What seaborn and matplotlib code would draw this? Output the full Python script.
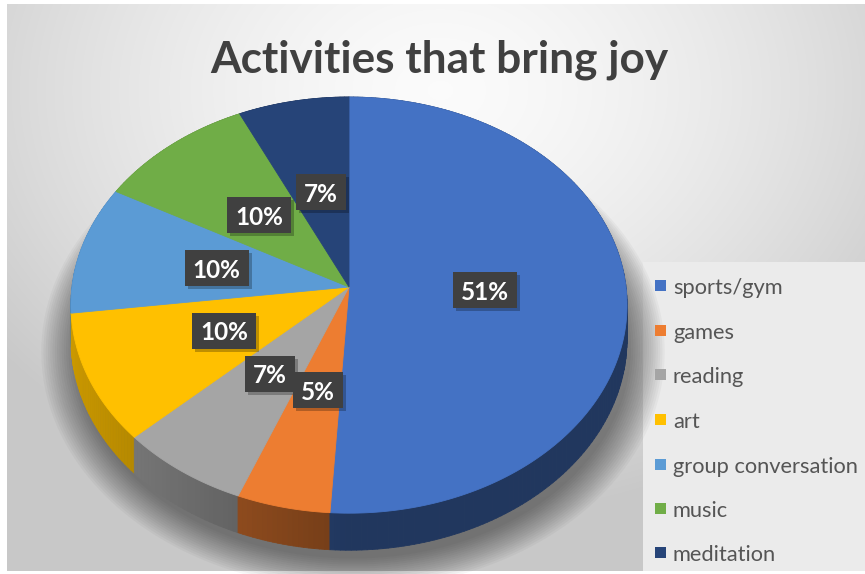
import numpy as np
import matplotlib
matplotlib.use("Agg")
import matplotlib.pyplot as plt
import seaborn as sns
from matplotlib.patches import Polygon, Rectangle
from matplotlib.collections import PolyCollection

# ---------------- data ----------------
categories = ["sports/gym", "games", "reading", "art",
              "group conversation", "music", "meditation"]
values = [51, 5, 7, 10, 10, 10, 7]
pct_labels = ["51%", "5%", "7%", "10%", "10%", "10%", "7%"]
title = "Activities that bring joy"

colors = sns.color_palette(["#4472C4", "#ED7D31", "#A5A5A5", "#FFC000",
                            "#5B9BD5", "#70AD47", "#264478"])

sns.set_theme(style="white")
plt.rcParams['font.family'] = ['Lato', 'DejaVu Sans']

W, H = 865, 574
fig = plt.figure(figsize=(8.65, 5.74), dpi=100)
fig.patch.set_facecolor("white")
ax = fig.add_axes([0, 0, 1, 1])
ax.set_xlim(0, W)
ax.set_ylim(H, 0)
ax.axis('off')
renderer = fig.canvas.get_renderer()

# ---------------- background ----------------
x0b, y0b, x1b, y1b = 7, 4, W, 571
yy, xx = np.mgrid[y0b:y1b, x0b:x1b]
d = np.sqrt(((xx - 440) / 560.0) ** 2 + ((yy - 90) / 430.0) ** 2)
g = 0.985 - 0.2 * np.clip(d, 0, 1) ** 1.5
ax.imshow(np.dstack([g, g, g]), extent=(x0b, x1b, y1b, y0b),
          interpolation='bilinear', zorder=0, aspect='auto')

# legend panel
ax.add_patch(Rectangle((643, 262), W - 643, 571 - 262, fc="#EBEBEB",
                       ec="none", zorder=1))

# ---------------- projection ----------------
cx, cy = 349.0, 287.0
A, B, K = 277.0, 206.5, 0.087
DEPTH = 33.8


def proj(r, th, down=0.0):
    u = r * np.sin(th)
    v = -r * np.cos(th)
    den = 1 - K * v
    return cx + A * u / den, cy + B * v / den + down / den


total = float(sum(values))
cum = np.concatenate([[0], np.cumsum(values)]) / total * 2 * np.pi

# soft shadow
th_all = np.linspace(0, 2 * np.pi, 361)
for i in range(16):
    s = 1.0 + 0.008 * i
    px, py = proj(s, th_all, DEPTH + 4)
    ax.add_patch(Polygon(np.column_stack([px + 4, py + 4]), closed=True,
                         fc="black", ec="none", alpha=0.03, zorder=2))

# walls
quads, qcols, qdepth = [], [], []
for i, c in enumerate(colors):
    n = max(int(np.degrees(cum[i + 1] - cum[i])), 2)
    ths = np.linspace(cum[i], cum[i + 1], n + 1)
    for a0, a1 in zip(ths[:-1], ths[1:]):
        tx0, ty0 = proj(1, a0)
        tx1, ty1 = proj(1, a1)
        bx0, by0 = proj(1, a0, DEPTH)
        bx1, by1 = proj(1, a1, DEPTH)
        quads.append([(tx0, ty0), (tx1, ty1), (bx1, by1), (bx0, by0)])
        am = 0.5 * (a0 + a1)
        f = 0.48 + 0.32 * max(0.0, -np.sin(am))
        qcols.append(tuple(np.array(c) * f))
        qdepth.append(-np.cos(am))
order = np.argsort(qdepth)
pc = PolyCollection([quads[j] for j in order],
                    facecolors=[qcols[j] for j in order],
                    edgecolors=[qcols[j] for j in order], linewidths=0.6,
                    zorder=3)
ax.add_collection(pc)

# top faces
for i, c in enumerate(colors):
    ths = np.linspace(cum[i], cum[i + 1], 200)
    px, py = proj(1, ths)
    pts = np.vstack([[cx, cy], np.column_stack([px, py])])
    ax.add_patch(Polygon(pts, closed=True, fc=c, ec=c, lw=0.6, zorder=4))

# data labels
for i, lab in enumerate(pct_labels):
    mid = 0.5 * (cum[i] + cum[i + 1])
    lx, ly = proj(0.49, mid)
    t = ax.text(lx, ly, lab, color="white", fontsize=17.5, fontweight="bold",
                ha="center", va="center_baseline", zorder=8)
    bb = t.get_window_extent(renderer)
    tw = bb.width
    bw, bh = tw + 16, 36
    ax.add_patch(Rectangle((lx - bw / 2 + 3, ly - bh / 2 + 3), bw, bh,
                           fc="black", ec="none", alpha=0.25, zorder=6))
    ax.add_patch(Rectangle((lx - bw / 2, ly - bh / 2), bw, bh,
                           fc="#404040", ec="none", zorder=7))


# ---------------- title ----------------
def fit_size(text, target_w, weight="normal", start=20.0):
    t = ax.text(0, 0, text, fontsize=start, fontweight=weight)
    w = t.get_window_extent(renderer).width
    t.remove()
    return start * target_w / w


ts = fit_size(title, 458, "bold", 30)
ax.text(439, 72, title, fontsize=ts, fontweight="bold", color="#404040",
        ha="center", va="baseline", zorder=9)

# ---------------- legend ----------------
ls = fit_size("group conversation", 187, "normal", 14)
leg_y = [285, 330, 374, 419, 464, 508, 552]
for c, name, y in zip(colors, categories, leg_y):
    ax.add_patch(Rectangle((655, y - 5.5), 11, 11, fc=c, ec="none", zorder=9))
    ax.text(673, y + 1, name, fontsize=ls, color="#555555", ha="left",
            va="center_baseline", zorder=9)

fig.savefig("out.png", dpi=100)
